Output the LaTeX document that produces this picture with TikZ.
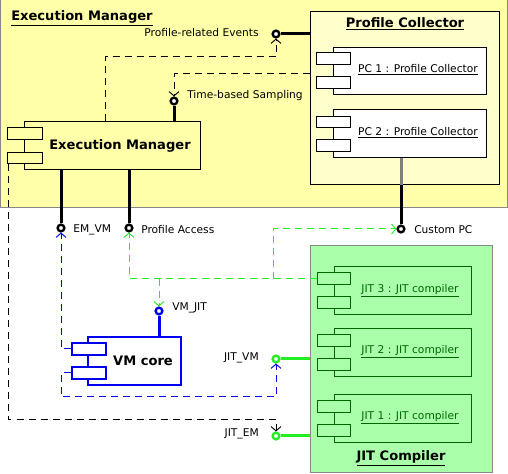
\documentclass[tikz,border=0pt]{standalone}
\usepackage{fontspec}
\setmainfont{DejaVu Sans}
\usetikzlibrary{fit,arrows.meta}
\definecolor{ylw}{HTML}{FFFFAA}
\definecolor{ylwin}{HTML}{FFFFCC}
\definecolor{grn}{HTML}{AAFFAA}
\definecolor{lg}{HTML}{22EE22}
\definecolor{dg}{HTML}{006600}
\definecolor{bl}{HTML}{0000EE}
\definecolor{pgray}{HTML}{888888}
\tikzset{
  panel/.style={draw=pgray, line width=0.75pt, inner sep=0pt},
  box/.style={draw, line width=0.75pt, inner sep=0pt},
  bbox/.style={draw=bl, line width=1.5pt, inner sep=0pt, fill=white},
  gbox/.style={draw=dg, line width=0.75pt, inner sep=0pt, fill=grn},
  lbl/.style={font=\fontsize{8}{10}\selectfont, inner sep=0pt},
  ttl/.style={font=\fontsize{9.8}{12}\selectfont\bfseries, inner sep=0pt},
  lolli/.style={circle, draw, fill=white, line width=1.8pt, minimum size=5pt, inner sep=0pt},
  stick/.style={line width=2.25pt},
  dsh/.style={line width=0.75pt, dash pattern=on 5.25pt off 3.75pt},
  arr/.style={-{Straight Barb[length=3.2pt,width=7.5pt,line width=0.7pt]}},
}
\begin{document}
\begin{tikzpicture}[x=0.75pt,y=-0.75pt]
\useasboundingbox (0,0) rectangle (508,474);
% panels
\node[panel, fill=ylw, fit={(0,0)(507,208)}] (empanel) {};
\node[ttl, anchor=west] (emtitle) at (11,18) {\underline{Execution Manager}};
\node[box, fill=ylwin, fit={(310,12)(499,185)}] (pcpanel) {};
\node[ttl] (pctitle) at (405,24) {\underline{Profile Collector}};
\node[panel, fill=grn, fit={(310,246)(492,473)}] (jitpanel) {};
\node[ttl] (jittitle) at (401,458) {\underline{JIT Compiler}};
% Execution Manager component
\node[box, fill=ylw, fit={(24,122)(200,170)}] (em) {};
\node[box, fill=ylw, fit={(7,128)(42,140)}] (emp1) {};
\node[box, fill=ylw, fit={(7,153)(42,164)}] (emp2) {};
\node[ttl] (emtext) at (120,146) {Execution Manager};
% PC components
\node[box, fill=white, fit={(333,48)(486,95)}] (pc1) {};
\node[box, fill=white, fit={(316,53)(350,65)}] (pc1p1) {};
\node[box, fill=white, fit={(316,77)(350,89)}] (pc1p2) {};
\node[lbl] (pc1text) at (418,70) {\underline{PC 1 : Profile Collector}};
\node[box, fill=white, fit={(333,110)(486,158)}] (pc2) {};
\node[box, fill=white, fit={(316,117)(350,128)}] (pc2p1) {};
\node[box, fill=white, fit={(316,140)(350,152)}] (pc2p2) {};
\node[lbl] (pc2text) at (418,133) {\underline{PC 2 : Profile Collector}};
% JIT components
\node[gbox, fit={(334,267)(471,315)}] (jit3) {};
\node[gbox, fit={(317,273)(350,285)}] (jit3p1) {};
\node[gbox, fit={(317,297)(350,309)}] (jit3p2) {};
\node[lbl, text=dg] (jit3text) at (410,291) {\underline{JIT 3 : JIT compiler}};
\node[gbox, fit={(334,329)(471,377)}] (jit2) {};
\node[gbox, fit={(317,335)(350,347)}] (jit2p1) {};
\node[gbox, fit={(317,359)(350,371)}] (jit2p2) {};
\node[lbl, text=dg] (jit2text) at (410,352) {\underline{JIT 2 : JIT compiler}};
\node[gbox, fit={(334,395)(471,443)}] (jit1) {};
\node[gbox, fit={(317,401)(350,413)}] (jit1p1) {};
\node[gbox, fit={(317,425)(350,437)}] (jit1p2) {};
\node[lbl, text=dg] (jit1text) at (410,418) {\underline{JIT 1 : JIT compiler}};
% VM core
\node[bbox, fit={(88,337)(181,385)}] (vm) {};
\node[bbox, fit={(72,343)(106,355)}] (vmp1) {};
\node[bbox, fit={(72,367)(106,379)}] (vmp2) {};
\node[ttl] (vmtext) at (143,361) {VM core};
% lollipops
\node[lolli] (pre) at (276,34) {};
\node[lolli] (tbs) at (174,101) {};
\node[lolli] (emvm) at (61,228) {};
\node[lolli] (pa) at (129,228) {};
\node[lolli] (cpc) at (401,229) {};
\node[lolli, draw=bl] (vmjit) at (159,311) {};
\node[lolli, draw=lg] (jitvm) at (276,359) {};
\node[lolli, draw=lg] (jitem) at (276,436) {};
% labels
\node[lbl, anchor=east] (lpre) at (259,33) {Profile-related Events};
\node[lbl, anchor=west] (ltbs) at (187,96) {Time-based Sampling};
\node[lbl, anchor=west] (lemvm) at (73,230) {EM\_VM};
\node[lbl, anchor=west] (lpa) at (141,230) {Profile Access};
\node[lbl, anchor=west] (lcpc) at (414,230) {Custom PC};
\node[lbl, anchor=west] (lvmjit) at (172,308) {VM\_JIT};
\node[lbl, anchor=east] (ljitvm) at (259,358) {JIT\_VM};
\node[lbl, anchor=east] (ljitem) at (259,434) {JIT\_EM};
% coordinates for bends
\coordinate (d1) at (105,57);
\coordinate (d2) at (310,74);
\coordinate (d3) at (8,420);
\coordinate (b2) at (61,397);
\coordinate (g1) at (159,279);
\coordinate (g2) at (273,279);
\coordinate (g3) at (273,229);
% sticks
\draw[stick] (pre) -- (pre -| pcpanel.west);
\draw[stick] (tbs) -- (tbs |- em.north);
\draw[stick] (emvm) -- (emvm |- em.south);
\draw[stick] (pa) -- (pa |- em.south);
\draw[stick, draw=gray] (pc2.south -| cpc) -- (pcpanel.south -| cpc);
\draw[stick] (pcpanel.south -| cpc) -- (cpc);
\draw[stick, draw=bl] (vmjit) -- (vmjit |- vm.north);
\draw[stick, draw=lg] (jitvm) -- (jitvm -| jitpanel.west);
\draw[stick, draw=lg] (jitem) -- (jitem -| jitpanel.west);
% dashed dependencies
\draw[dsh, arr] (em.north -| d1) -- (d1) -| (pre);
\draw[dsh, arr] (d2) -| (tbs);
\draw[dsh, arr] (d3 |- emp2.south) -- (d3) -| (jitem);
\draw[dsh, draw=bl, arr] (vmp1.west) -| (emvm);
\draw[dsh, draw=bl, arr] (vmp2.west) -| (b2) -| (jitvm);
\draw[dsh, draw=lg, arr] (jit3p1.west) -| (pa);
\draw[dsh, draw=lg, arr] (g1) -- (vmjit);
\draw[dsh, draw=lg, arr] (g2) -- (g3) -- (cpc);
\end{tikzpicture}
\end{document}
